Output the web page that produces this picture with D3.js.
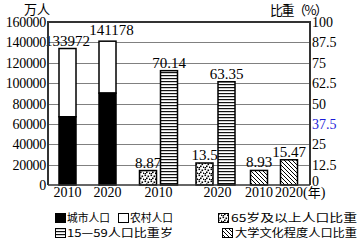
<!DOCTYPE html>
<html>
<head>
<meta charset="utf-8">
<script src="https://cdn.jsdelivr.net/npm/d3@7"></script>
<style>
  body { margin: 0; background: #fff; }
  svg { display: block; }
  .num { font-family: "Liberation Serif", "Times New Roman", serif; fill: #000; }
  .cjk { font-family: "Noto Sans CJK SC", sans-serif; fill: #000; }
</style>
</head>
<body>
<div id="chart"></div>
<script>
// population (万人)
var popYears = ["2010", "2020"];
var urbanPop = [66978, 90199];
var totalPop = [133972, 141178];

// ratios (%)
var ratioYears = ["2010", "2020"];
var age65 = [8.87, 13.5];
var age15to59 = [70.14, 63.35];
var college = [8.93, 15.47];

var leftTicks = [0, 20000, 40000, 60000, 80000, 100000, 120000, 140000, 160000];
var rightTicks = [0, 12.5, 25, 37.5, 50, 62.5, 75, 87.5, 100];

var svgWidth = 363, svgHeight = 249;
var plot = { left: 48, right: 310, top: 22, bottom: 185 };
var barW = 17;

var svg = d3.select("#chart").append("svg")
    .attr("width", svgWidth)
    .attr("height", svgHeight);

var defs = svg.append("defs");

// dotted fill
var dots = defs.append("pattern").attr("id", "dots")
    .attr("patternUnits", "userSpaceOnUse").attr("width", 6).attr("height", 6);
dots.append("rect").attr("width", 6).attr("height", 6).attr("fill", "#fff");
[[0.5, 0.5], [3.5, 1.5], [2, 3.5], [5, 4.5], [0.5, 5]].forEach(function (p) {
    dots.append("rect").attr("x", p[0]).attr("y", p[1]).attr("width", 1.6).attr("height", 1.6).attr("fill", "#000");
});

// horizontal lines
var hl = defs.append("pattern").attr("id", "hlines")
    .attr("patternUnits", "userSpaceOnUse").attr("width", 6).attr("height", 3);
hl.append("rect").attr("width", 6).attr("height", 3).attr("fill", "#fff");
hl.append("rect").attr("y", 0).attr("width", 6).attr("height", 1.2).attr("fill", "#111");

// diagonal hatch
var dg = defs.append("pattern").attr("id", "diag")
    .attr("patternUnits", "userSpaceOnUse").attr("width", 4).attr("height", 4);
dg.append("rect").attr("width", 4).attr("height", 4).attr("fill", "#fff");
dg.append("path").attr("d", "M-1,-1 L5,5 M-1,3 L1,5 M3,-1 L5,1")
    .attr("stroke", "#000").attr("stroke-width", 1);

var yLeft = d3.scaleLinear().domain([0, 160000]).range([plot.bottom, plot.top]);
var yRight = d3.scaleLinear().domain([0, 100]).range([plot.bottom, plot.top]);

// bar slots (hand-placed layout of the original)
var slotKeys = ["pop2010", "pop2020", "a65_2010", "a15_2010", "a65_2020", "a15_2020", "col2010", "col2020"];
var xSlot = d3.scaleOrdinal().domain(slotKeys)
    .range([67.5, 107.5, 148, 169, 204.5, 226.5, 259, 289]);

// grid
svg.append("g").selectAll("line").data(leftTicks.slice(1, -1)).join("line")
    .attr("x1", plot.left).attr("x2", plot.right)
    .attr("y1", function (d) { return Math.round(yLeft(d)) + 0.5; })
    .attr("y2", function (d) { return Math.round(yLeft(d)) + 0.5; })
    .attr("stroke", "#808080").attr("stroke-width", 1);

// left axis labels
svg.append("g").selectAll("text").data(leftTicks).join("text")
    .attr("class", "num")
    .attr("x", plot.left - 2)
    .attr("y", function (d) { return yLeft(d) + 5; })
    .attr("text-anchor", "end")
    .attr("font-size", 14)
    .attr("letter-spacing", -0.3)
    .text(function (d) { return d; });

// right axis labels
svg.append("g").selectAll("text").data(rightTicks).join("text")
    .attr("class", "num")
    .attr("x", plot.right + 2)
    .attr("y", function (d) { return yRight(d) + (d === 0 ? 1 : 5); })
    .attr("font-size", 14)
    .style("fill", function (d) { return d === 37.5 ? "#1c1cd8" : "#000"; })
    .text(function (d) { return d; });

// population bars: rural (total) then urban
var popRows = popYears.map(function (y, i) {
    return { key: "pop" + y, total: totalPop[i], urban: urbanPop[i] };
});
var popG = svg.append("g");
popG.selectAll("rect.rural").data(popRows).join("rect")
    .attr("class", "rural")
    .attr("x", function (d) { return xSlot(d.key) - barW / 2; })
    .attr("y", function (d) { return yLeft(d.total); })
    .attr("width", barW)
    .attr("height", function (d) { return yLeft(d.urban) - yLeft(d.total); })
    .attr("fill", "#fff").attr("stroke", "#000").attr("stroke-width", 1.5);
popG.selectAll("rect.urban").data(popRows).join("rect")
    .attr("class", "urban")
    .attr("x", function (d) { return xSlot(d.key) - barW / 2; })
    .attr("y", function (d) { return yLeft(d.urban); })
    .attr("width", barW)
    .attr("height", function (d) { return yLeft(0) - yLeft(d.urban); })
    .attr("fill", "#000").attr("stroke", "#000").attr("stroke-width", 1.5);
popG.selectAll("text").data(popRows).join("text")
    .attr("class", "num")
    .attr("x", function (d, i) { return xSlot(d.key) + (i === 1 ? 4 : 0); })
    .attr("y", function (d, i) { return yLeft(d.total) - (i === 1 ? 6 : 3); })
    .attr("text-anchor", "middle")
    .attr("font-size", 15)
    .text(function (d) { return d.total; });

// ratio bars
var ratioRows = [];
ratioYears.forEach(function (y, i) {
    ratioRows.push({ key: "a65_" + y, v: age65[i], fill: "url(#dots)" });
    ratioRows.push({ key: "a15_" + y, v: age15to59[i], fill: "url(#hlines)" });
    ratioRows.push({ key: "col" + y, v: college[i], fill: "url(#diag)" });
});
var rG = svg.append("g");
rG.selectAll("rect").data(ratioRows).join("rect")
    .attr("x", function (d) { return xSlot(d.key) - barW / 2; })
    .attr("y", function (d) { return yRight(d.v); })
    .attr("width", barW)
    .attr("height", function (d) { return yRight(0) - yRight(d.v); })
    .attr("fill", function (d) { return d.fill; })
    .attr("stroke", "#000").attr("stroke-width", 1.5);
rG.selectAll("text").data(ratioRows).join("text")
    .attr("class", "num")
    .attr("x", function (d) { return xSlot(d.key); })
    .attr("y", function (d) { return yRight(d.v) - 3; })
    .attr("text-anchor", "middle")
    .attr("font-size", 15)
    .text(function (d) { return d.v; });

// frame
svg.append("line").attr("x1", plot.left).attr("x2", plot.right)
    .attr("y1", plot.top).attr("y2", plot.top)
    .attr("stroke", "#333").attr("stroke-width", 2);
svg.append("line").attr("x1", plot.left).attr("x2", plot.right)
    .attr("y1", plot.bottom).attr("y2", plot.bottom)
    .attr("stroke", "#333").attr("stroke-width", 1.5);
svg.append("line").attr("x1", plot.left).attr("x2", plot.left)
    .attr("y1", plot.top - 1).attr("y2", plot.bottom)
    .attr("stroke", "#333").attr("stroke-width", 2);
svg.append("line").attr("x1", plot.right).attr("x2", plot.right)
    .attr("y1", plot.top - 1).attr("y2", plot.bottom)
    .attr("stroke", "#333").attr("stroke-width", 2);

// x labels
var xLabels = [
    { x: xSlot("pop2010"), t: "2010" },
    { x: xSlot("pop2020"), t: "2020" },
    { x: (xSlot("a65_2010") + xSlot("a15_2010")) / 2, t: "2010" },
    { x: (xSlot("a65_2020") + xSlot("a15_2020")) / 2 + 2, t: "2020" },
    { x: xSlot("col2010"), t: "2010" }
];
svg.append("g").selectAll("text").data(xLabels).join("text")
    .attr("class", "num")
    .attr("x", function (d) { return d.x; })
    .attr("y", 197)
    .attr("text-anchor", "middle")
    .attr("font-size", 14)
    .text(function (d) { return d.t; });
var last = svg.append("text").attr("class", "num")
    .attr("x", xSlot("col2020") - 14).attr("y", 197).attr("font-size", 14);
last.append("tspan").text("2020(");
last.append("tspan").attr("class", "cjk").attr("font-size", 13).text("年");
last.append("tspan").text(")");

// axis titles
svg.append("text").attr("class", "cjk").attr("x", 24).attr("y", 14)
    .attr("font-size", 13).text("万人");
svg.append("text").attr("class", "cjk").attr("x", 270).attr("y", 15)
    .attr("font-size", 13).attr("textLength", 58).attr("lengthAdjust", "spacing")
    .text("比重（%）");

// legend
var legendItems = [
    { label: "城市人口", fill: "#000", x: 55, y: 213, tx: 67, len: 43 },
    { label: "农村人口", fill: "#fff", x: 118, y: 213, tx: 130, len: 43 },
    { label: "65岁及以上人口比重", fill: "url(#dots)", x: 218, y: 213, tx: 231, len: 126 },
    { label: "15—59人口比重岁", fill: "url(#hlines)", x: 55, y: 228, tx: 67, len: 106 },
    { label: "大学文化程度人口比重", fill: "url(#diag)", x: 222, y: 228, tx: 235, len: 122 }
];
var lg = svg.append("g");
lg.selectAll("rect").data(legendItems).join("rect")
    .attr("x", function (d) { return d.x + 0.5; })
    .attr("y", function (d) { return d.y + 0.5; })
    .attr("width", 10).attr("height", 9)
    .attr("fill", function (d) { return d.fill; })
    .attr("stroke", "#000").attr("stroke-width", 1);
lg.selectAll("text").data(legendItems).join("text")
    .attr("class", "cjk")
    .attr("x", function (d) { return d.tx; })
    .attr("y", function (d) { return d.y + 9; })
    .attr("font-size", 11)
    .attr("textLength", function (d) { return d.len; })
    .attr("lengthAdjust", "spacingAndGlyphs")
    .text(function (d) { return d.label; });
</script>
</body>
</html>
